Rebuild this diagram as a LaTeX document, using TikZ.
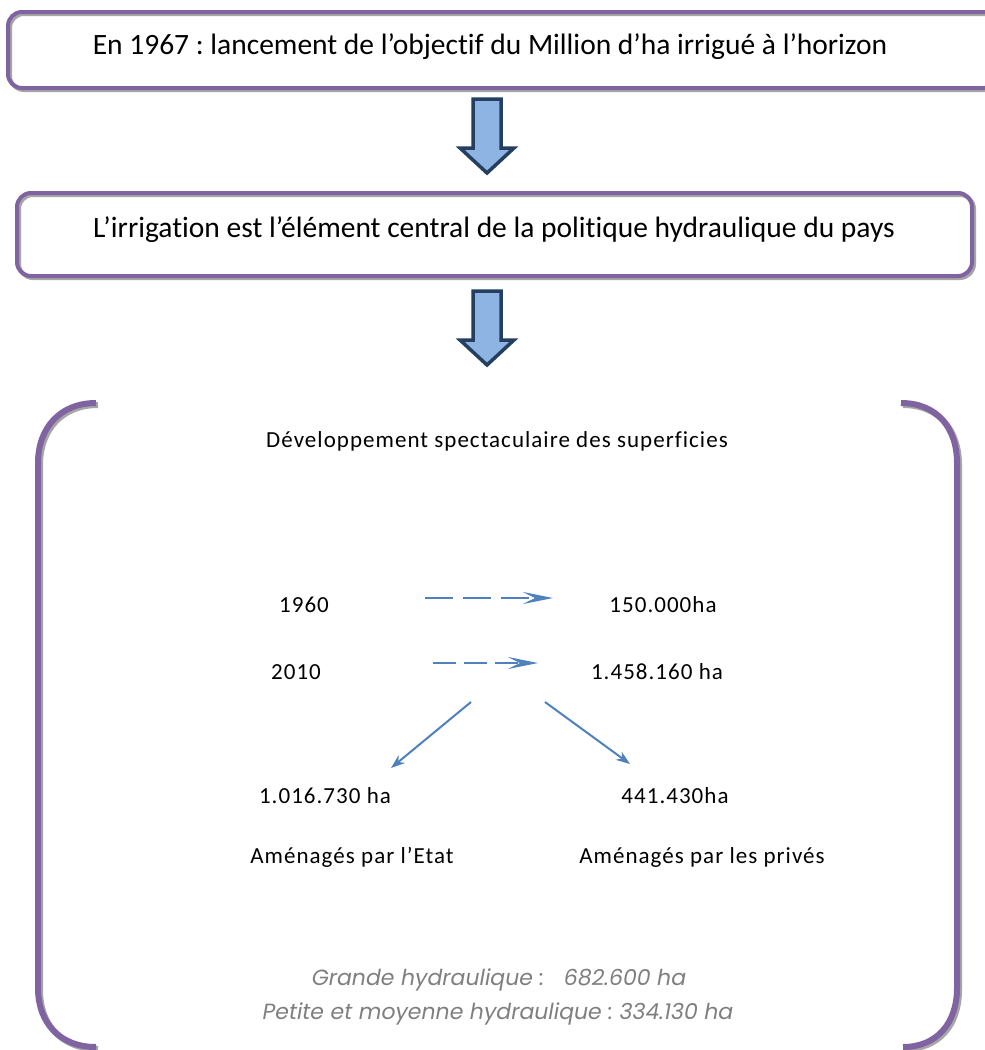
\documentclass[tikz,border=0pt]{standalone}
\usepackage{fontspec}
\usetikzlibrary{arrows.meta}
\setmainfont{Carlito}[Ligatures=NoCommon]
\newfontfamily\midfont{Carlito}[Ligatures=NoCommon,LetterSpace=4.5]
\newfontfamily\gfont{Poppins}
\frenchspacing
\definecolor{boxpurple}{HTML}{8064A2}
\definecolor{navy}{HTML}{243F60}
\definecolor{arrowfill}{HTML}{8DB4E2}
\definecolor{smallblue}{HTML}{4F81BD}
\definecolor{graytext}{HTML}{7F7F7F}
\definecolor{shadowgray}{HTML}{A6A6A6}
\begin{document}
\begin{tikzpicture}[x=1pt,y=-1pt,
  topbox/.style={draw=boxpurple,line width=4pt,rounded corners=14pt},
  shadowline/.style={draw=shadowgray,line width=4pt,rounded corners=14pt},
  bracket/.style={draw=boxpurple,line width=6pt},
  bracketshadow/.style={draw=shadowgray,line width=6pt},
  blockarrow/.style={draw=navy,fill=arrowfill,line width=3.5pt,line join=miter},
  bigtxt/.style={font=\fontsize{29.5}{34}\selectfont,inner sep=0pt},
  midtxt/.style={font=\midfont\fontsize{23}{27}\selectfont,inner sep=0pt},
  graytxt/.style={font=\gfont\itshape\fontsize{22}{26}\selectfont,text=graytext,inner sep=0pt},
  smallarrow/.style={draw=smallblue,line width=2pt,-{Stealth[length=14pt,width=10pt]}},
  dasharrow/.style={draw=smallblue,line width=2.5pt,-{Stealth[length=30pt,width=12pt,inset=12pt]}}
]
\useasboundingbox (0,0) rectangle (985,1050);
\fill[white] (0,0) rectangle (985,1050);
% top boxes
\draw[shadowline] (10,14) rectangle (1000,90);
\draw[topbox] (8,12) rectangle (998,88);
\draw[shadowline] (19,195) rectangle (974,278);
\draw[topbox] (17,193) rectangle (972,276);
\node[bigtxt] (t1) at (490,47) {En 1967 : lancement de l’objectif du Million d’ha irrigué à l’horizon};
\node[bigtxt] (t2) at (494,230) {L’irrigation est l’élément central de la politique hydraulique du pays};
% block arrows
\draw[blockarrow] (473,99) -- (501,99) -- (501,148) -- (514,148) -- (487,173) -- (460,148) -- (473,148) -- cycle;
\draw[blockarrow] (473,291) -- (501,291) -- (501,340) -- (514,340) -- (487,365) -- (460,340) -- (473,340) -- cycle;
% brackets
\draw[bracketshadow] (98,405) .. controls (62,405) and (40,430) .. (40,465) -- (40,990) .. controls (40,1025) and (62,1049) .. (98,1049);
\draw[bracket] (96,403) .. controls (60,403) and (38,428) .. (38,463) -- (38,988) .. controls (38,1023) and (60,1047) .. (96,1047);
\draw[bracketshadow] (903,405) .. controls (939,405) and (959,430) .. (959,465) -- (959,990) .. controls (959,1025) and (939,1049) .. (905,1049);
\draw[bracket] (901,403) .. controls (937,403) and (957,428) .. (957,463) -- (957,988) .. controls (957,1023) and (937,1047) .. (903,1047);
% texts
\node[midtxt] (dev) at (497,441) {Développement spectaculaire des superficies};
\node[midtxt] (y60) at (304,605) {1960};
\node[midtxt] (v60) at (663,605) {150.000ha};
\node[midtxt] (y10) at (296,672) {2010};
\node[midtxt] (v10) at (657,672) {1.458.160 ha};
\node[midtxt] (etat) at (325,796) {1.016.730 ha};
\node[midtxt] (priv) at (675,796) {441.430ha};
\node[midtxt] (aetat) at (352,857) {Aménagés par l’Etat};
\node[midtxt] (apriv) at (702,857) {Aménagés par les privés};
\node[graytxt] (g1) at (499,980) {Grande hydraulique :\ \ \ 682.600 ha};
\node[graytxt] (g2) at (498,1014) {Petite et moyenne hydraulique : 334.130 ha};
% small arrows
\coordinate (d1s) at (425,598);
\coordinate (d1e) at (553,598);
\coordinate (d2s) at (433,663);
\coordinate (d2e) at (538,663);
\draw[dasharrow,dash pattern=on 28pt off 10pt] (d1s) -- (d1e);
\draw[dasharrow,dash pattern=on 23pt off 8pt] (d2s) -- (d2e);
\coordinate (ls) at (471,702);
\coordinate (rs) at (545,702);
\draw[smallarrow] (ls) -- (391,768);
\draw[smallarrow] (rs) -- (630,764);
\end{tikzpicture}
\end{document}
